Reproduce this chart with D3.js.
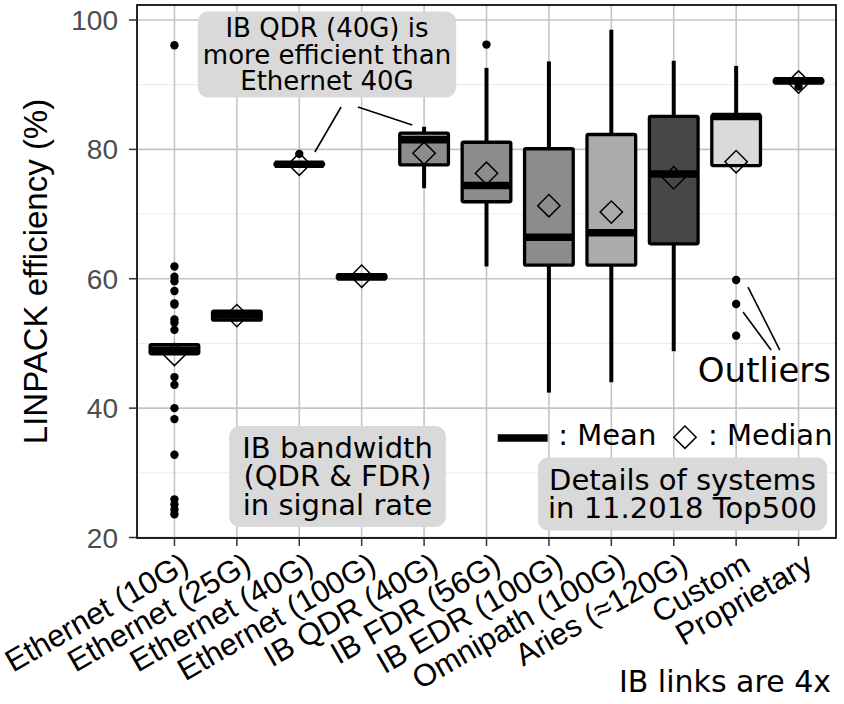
<!DOCTYPE html>
<html>
<head>
<meta charset="utf-8">
<script src="https://cdn.jsdelivr.net/npm/d3@7"></script>
<style>
  body { margin: 0; background: #fff; }
</style>
</head>
<body>
<div id="chart"></div>
<script>
// Interconnect families (x axis)
const categories = ["Ethernet (10G)", "Ethernet (25G)", "Ethernet (40G)", "Ethernet (100G)",
  "IB QDR (40G)", "IB FDR (56G)", "IB EDR (100G)", "Omnipath (100G)",
  "Aries (\u2248120G)", "Custom", "Proprietary"];

// Box statistics, LINPACK efficiency (%)
const q1 =        [48.4, 53.6, 77.5, 60.0, 77.6, 71.9, 62.1, 62.1, 65.4, 77.5, 90.3];
const q3 =        [49.8, 55.0, 77.9, 60.6, 82.5, 81.1, 80.1, 82.3, 85.1, 85.3, 90.8];
const whiskerLo = [48.4, 53.6, 77.5, 60.0, 74.0, 61.9, 42.4, 44.0, 48.8, 77.5, 90.3];
const whiskerHi = [49.8, 55.0, 77.9, 60.6, 83.5, 92.6, 93.6, 98.5, 93.7, 92.9, 90.8];
const means =     [48.9, 54.4, 77.7, 60.3, 81.5, 74.4, 66.4, 67.1, 76.2, 85.1, 90.6];
const medians =   [48.3, 54.3, 77.7, 60.4, 79.4, 76.3, 71.3, 70.3, 75.6, 78.1, 90.4];
const outliers = [
  [96.1, 61.9, 60.3, 59.6, 58.1, 56.2, 56.0, 53.7, 53.2, 52.1, 44.8, 43.6, 40.0, 38.3, 32.8, 25.9, 25.1, 24.3, 23.6],
  [], [79.3], [], [], [96.2], [], [], [], [59.8, 56.1, 51.2], [89.7]
];
const boxFill = ["#8c8c8c", "#8c8c8c", "#8c8c8c", "#8c8c8c", "#8c8c8c", "#8c8c8c",
  "#8c8c8c", "#ababab", "#474747", "#d9dbd9", "#8c8c8c"];

const yTicks = [20, 40, 60, 80, 100];
const yMinor = [30, 50, 70, 90];

const W = 844, H = 704;
const panel = { left: 137, right: 836, top: 5, bottom: 538 };

const svg = d3.select("#chart").append("svg")
  .attr("width", W).attr("height", H)
  .style("display", "block");

const x = d3.scaleLinear().domain([-0.6, categories.length - 0.4]).range([panel.left, panel.right]);
const y = d3.scaleLinear().domain([20, 100]).range([537.5, 20]);

// grid
const grid = svg.append("g");
grid.selectAll(".minor").data(yMinor).join("line")
  .attr("x1", panel.left).attr("x2", panel.right)
  .attr("y1", d => y(d)).attr("y2", d => y(d))
  .attr("stroke", "#ebebeb").attr("stroke-width", 1);
grid.selectAll(".major").data(yTicks).join("line")
  .attr("x1", panel.left).attr("x2", panel.right)
  .attr("y1", d => y(d)).attr("y2", d => y(d))
  .attr("stroke", "#c4c4c4").attr("stroke-width", 1.6);
grid.selectAll(".vmajor").data(categories).join("line")
  .attr("x1", (d, i) => x(i)).attr("x2", (d, i) => x(i))
  .attr("y1", panel.top).attr("y2", panel.bottom)
  .attr("stroke", "#c4c4c4").attr("stroke-width", 1.6);

// annotation labels (drawn under the boxes)
function addLabel(lines, cx, cy, size, gap, padX, padY) {
  const g = svg.append("g");
  const rect = g.append("rect");
  const t = g.append("text")
    .attr("font-family", "DejaVu Sans")
    .attr("font-size", size)
    .attr("text-anchor", "middle")
    .attr("fill", "#000");
  lines.forEach((l, k) => {
    t.append("tspan")
      .attr("x", cx)
      .attr("y", cy + (k - (lines.length - 1) / 2) * gap)
      .attr("dy", "0.35em")
      .text(l);
  });
  const bb = t.node().getBBox();
  rect.attr("x", bb.x - padX).attr("y", bb.y - padY)
    .attr("width", bb.width + 2 * padX).attr("height", bb.height + 2 * padY)
    .attr("rx", 10).attr("fill", "#d9d9d9");
}

addLabel(["IB QDR (40G) is", "more efficient than", "Ethernet 40G"], x(2.444), y(94.68), 26, 26.5, 5, 1.5);
addLabel(["IB bandwidth", "(QDR & FDR)", "in signal rate"], x(2.613), y(29.46), 29, 28.5, 13, 5);
addLabel(["Details of systems", "in 11.2018 Top500"], x(8.141), y(26.75), 29, 28, 10, 5.5);

// boxes
const stats = categories.map((c, i) => ({
  i, q1: q1[i], q3: q3[i], lo: whiskerLo[i], hi: whiskerHi[i],
  mean: means[i], median: medians[i], fill: boxFill[i], out: outliers[i]
}));
const hw = 0.39;
const boxes = svg.append("g");

boxes.selectAll(".whisker-hi").data(stats.filter(d => d.hi > d.q3)).join("line")
  .attr("x1", d => x(d.i)).attr("x2", d => x(d.i))
  .attr("y1", d => y(d.q3)).attr("y2", d => y(d.hi))
  .attr("stroke", "#000").attr("stroke-width", 4);
boxes.selectAll(".whisker-lo").data(stats.filter(d => d.lo < d.q1)).join("line")
  .attr("x1", d => x(d.i)).attr("x2", d => x(d.i))
  .attr("y1", d => y(d.q1)).attr("y2", d => y(d.lo))
  .attr("stroke", "#000").attr("stroke-width", 4);

boxes.selectAll(".box").data(stats).join("rect")
  .attr("x", d => x(d.i - hw))
  .attr("y", d => y(d.q3))
  .attr("width", d => x(d.i + hw) - x(d.i - hw))
  .attr("height", d => y(d.q1) - y(d.q3))
  .attr("rx", 1.5)
  .attr("fill", d => d.fill)
  .attr("stroke", "#000").attr("stroke-width", 3.3)
  .attr("stroke-linejoin", "round");

boxes.selectAll(".mean").data(stats).join("line")
  .attr("x1", d => x(d.i - hw)).attr("x2", d => x(d.i + hw))
  .attr("y1", d => y(d.mean)).attr("y2", d => y(d.mean))
  .attr("stroke", "#000").attr("stroke-width", 7.5);

const outPts = stats.flatMap(d => d.out.map(v => ({ i: d.i, v })));
boxes.selectAll(".outlier").data(outPts).join("circle")
  .attr("cx", d => x(d.i)).attr("cy", d => y(d.v))
  .attr("r", 4.2).attr("fill", "#000");

const diamond = d3.symbol().type(d3.symbolSquare).size(250);
boxes.selectAll(".median").data(stats).join("path")
  .attr("d", diamond)
  .attr("transform", d => `translate(${x(d.i)},${y(d.median)}) rotate(45)`)
  .attr("fill", "none").attr("stroke", "#000").attr("stroke-width", 1.5);

// panel border
svg.append("rect")
  .attr("x", panel.left).attr("y", panel.top)
  .attr("width", panel.right - panel.left).attr("height", panel.bottom - panel.top)
  .attr("fill", "none").attr("stroke", "#000").attr("stroke-width", 1.7);

// pointer segments
const segs = [
  [2.67, 86.55, 2.25, 79.59],
  [2.94, 86.55, 3.81, 83.77],
  [9.19, 58.72, 9.70, 48.98],
  [9.11, 54.86, 9.56, 48.98]
];
svg.selectAll(".seg").data(segs).join("line")
  .attr("x1", d => x(d[0])).attr("y1", d => y(d[1]))
  .attr("x2", d => x(d[2])).attr("y2", d => y(d[3]))
  .attr("stroke", "#000").attr("stroke-width", 1.6);

svg.append("text")
  .attr("x", x(10.52)).attr("y", y(44.04))
  .attr("text-anchor", "end")
  .attr("font-family", "DejaVu Sans").attr("font-size", 34)
  .text("Outliers");

// mean / median key
svg.append("line")
  .attr("x1", x(5.18)).attr("x2", x(5.98))
  .attr("y1", y(35.4)).attr("y2", y(35.4))
  .attr("stroke", "#000").attr("stroke-width", 7.5);
svg.append("text")
  .attr("x", x(6.15)).attr("y", y(34.3))
  .attr("font-family", "DejaVu Sans").attr("font-size", 29)
  .text(": Mean");
svg.append("path")
  .attr("d", diamond)
  .attr("transform", `translate(${x(8.18)},${y(35.5)}) rotate(45)`)
  .attr("fill", "none").attr("stroke", "#000").attr("stroke-width", 1.5);
svg.append("text")
  .attr("x", x(8.55)).attr("y", y(34.3))
  .attr("font-family", "DejaVu Sans").attr("font-size", 29)
  .text(": Median");

// y axis
const yAxis = svg.append("g");
yAxis.selectAll(".tick").data(yTicks).join("line")
  .attr("x1", panel.left - 8).attr("x2", panel.left)
  .attr("y1", d => y(d)).attr("y2", d => y(d))
  .attr("stroke", "#333").attr("stroke-width", 1.5);
yAxis.selectAll(".label").data(yTicks).join("text")
  .attr("x", 118).attr("y", d => y(d))
  .attr("dy", "0.36em")
  .attr("text-anchor", "end")
  .attr("font-family", "Liberation Sans").attr("font-size", 28)
  .attr("fill", "#4d4d4d")
  .text(d => d);
svg.append("text")
  .attr("transform", `translate(47,${(panel.top + panel.bottom) / 2}) rotate(-90)`)
  .attr("text-anchor", "middle")
  .attr("font-family", "Liberation Sans").attr("font-size", 33)
  .text("LINPACK efficiency (%)");

// x axis
const xAxis = svg.append("g");
xAxis.selectAll(".tick").data(categories).join("line")
  .attr("x1", (d, i) => x(i)).attr("x2", (d, i) => x(i))
  .attr("y1", panel.bottom).attr("y2", panel.bottom + 8)
  .attr("stroke", "#333").attr("stroke-width", 1.5);
xAxis.selectAll(".label").data(categories).join("text")
  .attr("transform", (d, i) => `translate(${x(i) + 5},${panel.bottom + 13}) rotate(-30)`)
  .attr("dy", "0.72em")
  .attr("text-anchor", "end")
  .attr("font-family", "Liberation Sans").attr("font-size", 31)
  .attr("fill", "#000")
  .text(d => d);

svg.append("text")
  .attr("x", 831).attr("y", 692)
  .attr("text-anchor", "end")
  .attr("font-family", "DejaVu Sans").attr("font-size", 30)
  .text("IB links are 4x");
</script>
</body>
</html>
